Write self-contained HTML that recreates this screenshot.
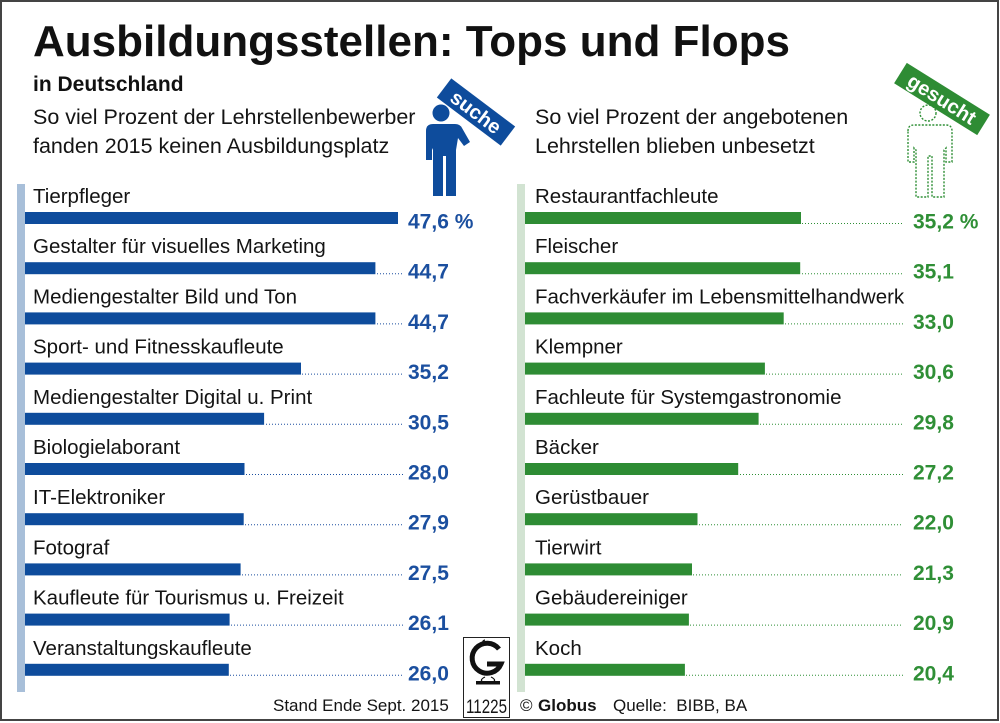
<!DOCTYPE html>
<html><head><meta charset="utf-8"><style>
html,body{margin:0;padding:0;background:#fff;}
svg{display:block;}
text{font-family:"Liberation Sans",Arial,sans-serif;}
.lb{font-size:20.5px;fill:#141414;}
.vb{font-size:21px;font-weight:bold;fill:#1b4f9f;}
.vg{font-size:21px;font-weight:bold;fill:#2f8f36;}
.bb{fill:#0e4c9c;}
.bg{fill:#2e8c34;}
.db{stroke:#1b4f9f;stroke-width:1;stroke-dasharray:1 2;}
.dg{stroke:#2f8f36;stroke-width:1;stroke-dasharray:1 2;}
</style></head><body>
<svg width="1000" height="723" viewBox="0 0 1000 723" xmlns="http://www.w3.org/2000/svg">
<rect x="1" y="1" width="997" height="719" fill="#fff" stroke="#444" stroke-width="2"/>

<text x="33" y="56" font-size="44" font-weight="bold" fill="#111">Ausbildungsstellen: Tops und Flops</text>
<text x="33" y="91" font-size="21" font-weight="bold" fill="#111">in Deutschland</text>

<text x="33" y="124" font-size="21.5" fill="#141414">So viel Prozent der Lehrstellenbewerber</text>
<text x="33" y="153" font-size="21.5" fill="#141414">fanden 2015 keinen Ausbildungsplatz</text>
<text x="535" y="124" font-size="21.5" fill="#141414">So viel Prozent der angebotenen</text>
<text x="535" y="153" font-size="21.5" fill="#141414">Lehrstellen blieben unbesetzt</text>

<!-- blue figure -->
<circle cx="441" cy="113" r="8.5" fill="#0e4c9c"/>
<path d="M426,131 Q426,124 433,124 L455,124 Q460,124 462,128 L470,142 L464,146 L458,138 L456,150 L456,196 L446,196 L446,156 L443,156 L443,196 L433,196 L433,150 L432,148 L432,160 L426,160 Z" fill="#0e4c9c"/>
<g transform="translate(476,112) rotate(37)">
<rect x="-40" y="-12" width="80" height="24" fill="#0e4c9c"/>
<text x="0" y="7" text-anchor="middle" font-size="20" font-weight="bold" fill="#fff">suche</text>
</g>

<!-- green figure -->
<circle cx="928" cy="113" r="8" fill="none" stroke="#2f8f36" stroke-width="1.4" stroke-dasharray="2 1.5"/>
<path d="M908,131 Q908,125 914,125 L946,125 Q952,125 952,131 L952,162 L946,162 L946,148 L944,150 L944,197 L932,197 L932,156 L928,156 L928,197 L916,197 L916,150 L914,148 L914,162 L908,162 Z" fill="none" stroke="#2f8f36" stroke-width="1.4" stroke-dasharray="2 1.5"/>
<g transform="translate(942,99) rotate(32)">
<rect x="-49" y="-12" width="98" height="24" fill="#2e8c34"/>
<text x="0" y="7" text-anchor="middle" font-size="20" font-weight="bold" fill="#fff">gesucht</text>
</g>

<!-- accent bars -->
<rect x="17" y="184" width="8" height="508" fill="#a8bfd9"/>
<rect x="517" y="184" width="8" height="508" fill="#d2e3d2"/>

<!-- left rows -->
<g><text class="lb" x="33" y="203">Tierpfleger</text><rect class="bb" x="25" y="212" width="373" height="12"/><text class="vb" x="408" y="228.5">47,6 %</text></g>
<g transform="translate(0,50.2)"><text class="lb" x="33" y="203">Gestalter für visuelles Marketing</text><rect class="bb" x="25" y="212" width="350.4" height="12"/><line class="db" x1="377" y1="223.5" x2="403" y2="223.5"/><text class="vb" x="408" y="228.5">44,7</text></g>
<g transform="translate(0,100.4)"><text class="lb" x="33" y="203">Mediengestalter Bild und Ton</text><rect class="bb" x="25" y="212" width="350.4" height="12"/><line class="db" x1="377" y1="223.5" x2="403" y2="223.5"/><text class="vb" x="408" y="228.5">44,7</text></g>
<g transform="translate(0,150.6)"><text class="lb" x="33" y="203">Sport- und Fitnesskaufleute</text><rect class="bb" x="25" y="212" width="276" height="12"/><line class="db" x1="302" y1="223.5" x2="403" y2="223.5"/><text class="vb" x="408" y="228.5">35,2</text></g>
<g transform="translate(0,200.8)"><text class="lb" x="33" y="203">Mediengestalter Digital u. Print</text><rect class="bb" x="25" y="212" width="239.1" height="12"/><line class="db" x1="266" y1="223.5" x2="403" y2="223.5"/><text class="vb" x="408" y="228.5">30,5</text></g>
<g transform="translate(0,251)"><text class="lb" x="33" y="203">Biologielaborant</text><rect class="bb" x="25" y="212" width="219.5" height="12"/><line class="db" x1="246" y1="223.5" x2="403" y2="223.5"/><text class="vb" x="408" y="228.5">28,0</text></g>
<g transform="translate(0,301.2)"><text class="lb" x="33" y="203">IT-Elektroniker</text><rect class="bb" x="25" y="212" width="218.7" height="12"/><line class="db" x1="245" y1="223.5" x2="403" y2="223.5"/><text class="vb" x="408" y="228.5">27,9</text></g>
<g transform="translate(0,351.4)"><text class="lb" x="33" y="203">Fotograf</text><rect class="bb" x="25" y="212" width="215.6" height="12"/><line class="db" x1="242" y1="223.5" x2="403" y2="223.5"/><text class="vb" x="408" y="228.5">27,5</text></g>
<g transform="translate(0,401.6)"><text class="lb" x="33" y="203">Kaufleute für Tourismus u. Freizeit</text><rect class="bb" x="25" y="212" width="204.6" height="12"/><line class="db" x1="231" y1="223.5" x2="403" y2="223.5"/><text class="vb" x="408" y="228.5">26,1</text></g>
<g transform="translate(0,451.8)"><text class="lb" x="33" y="203">Veranstaltungskaufleute</text><rect class="bb" x="25" y="212" width="203.8" height="12"/><line class="db" x1="230" y1="223.5" x2="403" y2="223.5"/><text class="vb" x="408" y="228.5">26,0</text></g>

<!-- right rows -->
<g><text class="lb" x="535" y="203">Restaurantfachleute</text><rect class="bg" x="525" y="212" width="276" height="12"/><line class="dg" x1="802" y1="223.5" x2="903" y2="223.5"/><text class="vg" x="913" y="228.5">35,2 %</text></g>
<g transform="translate(0,50.2)"><text class="lb" x="535" y="203">Fleischer</text><rect class="bg" x="525" y="212" width="275.2" height="12"/><line class="dg" x1="802" y1="223.5" x2="903" y2="223.5"/><text class="vg" x="913" y="228.5">35,1</text></g>
<g transform="translate(0,100.4)"><text class="lb" x="535" y="203">Fachverkäufer im Lebensmittelhandwerk</text><rect class="bg" x="525" y="212" width="258.7" height="12"/><line class="dg" x1="785" y1="223.5" x2="903" y2="223.5"/><text class="vg" x="913" y="228.5">33,0</text></g>
<g transform="translate(0,150.6)"><text class="lb" x="535" y="203">Klempner</text><rect class="bg" x="525" y="212" width="239.9" height="12"/><line class="dg" x1="766" y1="223.5" x2="903" y2="223.5"/><text class="vg" x="913" y="228.5">30,6</text></g>
<g transform="translate(0,200.8)"><text class="lb" x="535" y="203">Fachleute für Systemgastronomie</text><rect class="bg" x="525" y="212" width="233.6" height="12"/><line class="dg" x1="760" y1="223.5" x2="903" y2="223.5"/><text class="vg" x="913" y="228.5">29,8</text></g>
<g transform="translate(0,251)"><text class="lb" x="535" y="203">Bäcker</text><rect class="bg" x="525" y="212" width="213.2" height="12"/><line class="dg" x1="740" y1="223.5" x2="903" y2="223.5"/><text class="vg" x="913" y="228.5">27,2</text></g>
<g transform="translate(0,301.2)"><text class="lb" x="535" y="203">Gerüstbauer</text><rect class="bg" x="525" y="212" width="172.5" height="12"/><line class="dg" x1="699" y1="223.5" x2="903" y2="223.5"/><text class="vg" x="913" y="228.5">22,0</text></g>
<g transform="translate(0,351.4)"><text class="lb" x="535" y="203">Tierwirt</text><rect class="bg" x="525" y="212" width="167" height="12"/><line class="dg" x1="693" y1="223.5" x2="903" y2="223.5"/><text class="vg" x="913" y="228.5">21,3</text></g>
<g transform="translate(0,401.6)"><text class="lb" x="535" y="203">Gebäudereiniger</text><rect class="bg" x="525" y="212" width="163.9" height="12"/><line class="dg" x1="690" y1="223.5" x2="903" y2="223.5"/><text class="vg" x="913" y="228.5">20,9</text></g>
<g transform="translate(0,451.8)"><text class="lb" x="535" y="203">Koch</text><rect class="bg" x="525" y="212" width="159.9" height="12"/><line class="dg" x1="686" y1="223.5" x2="903" y2="223.5"/><text class="vg" x="913" y="228.5">20,4</text></g>

<!-- footer -->
<text x="273" y="711" font-size="17" fill="#141414">Stand Ende Sept. 2015</text>
<rect x="463.5" y="637.5" width="46" height="80" fill="#fff" stroke="#222" stroke-width="1"/>
<path d="M499,649 A15,15 0 1 0 501,664 L487,664" fill="none" stroke="#111" stroke-width="5"/>
<rect x="476" y="681" width="24" height="3.5" fill="#111"/>
<path d="M485,677 Q479,680 483,682 M491,677 Q497,680 493,682 M484,645 Q481,641 485,640" fill="none" stroke="#111" stroke-width="1.2"/>
<text x="466" y="713" font-size="19" fill="#141414" textLength="41" lengthAdjust="spacingAndGlyphs">11225</text>
<text x="520" y="711" font-size="17" fill="#141414">©</text>
<text x="538" y="711" font-size="17" font-weight="bold" fill="#141414">Globus</text>
<text x="613" y="711" font-size="17" fill="#141414" xml:space="preserve">Quelle:  BIBB, BA</text>
</svg>
</body></html>
